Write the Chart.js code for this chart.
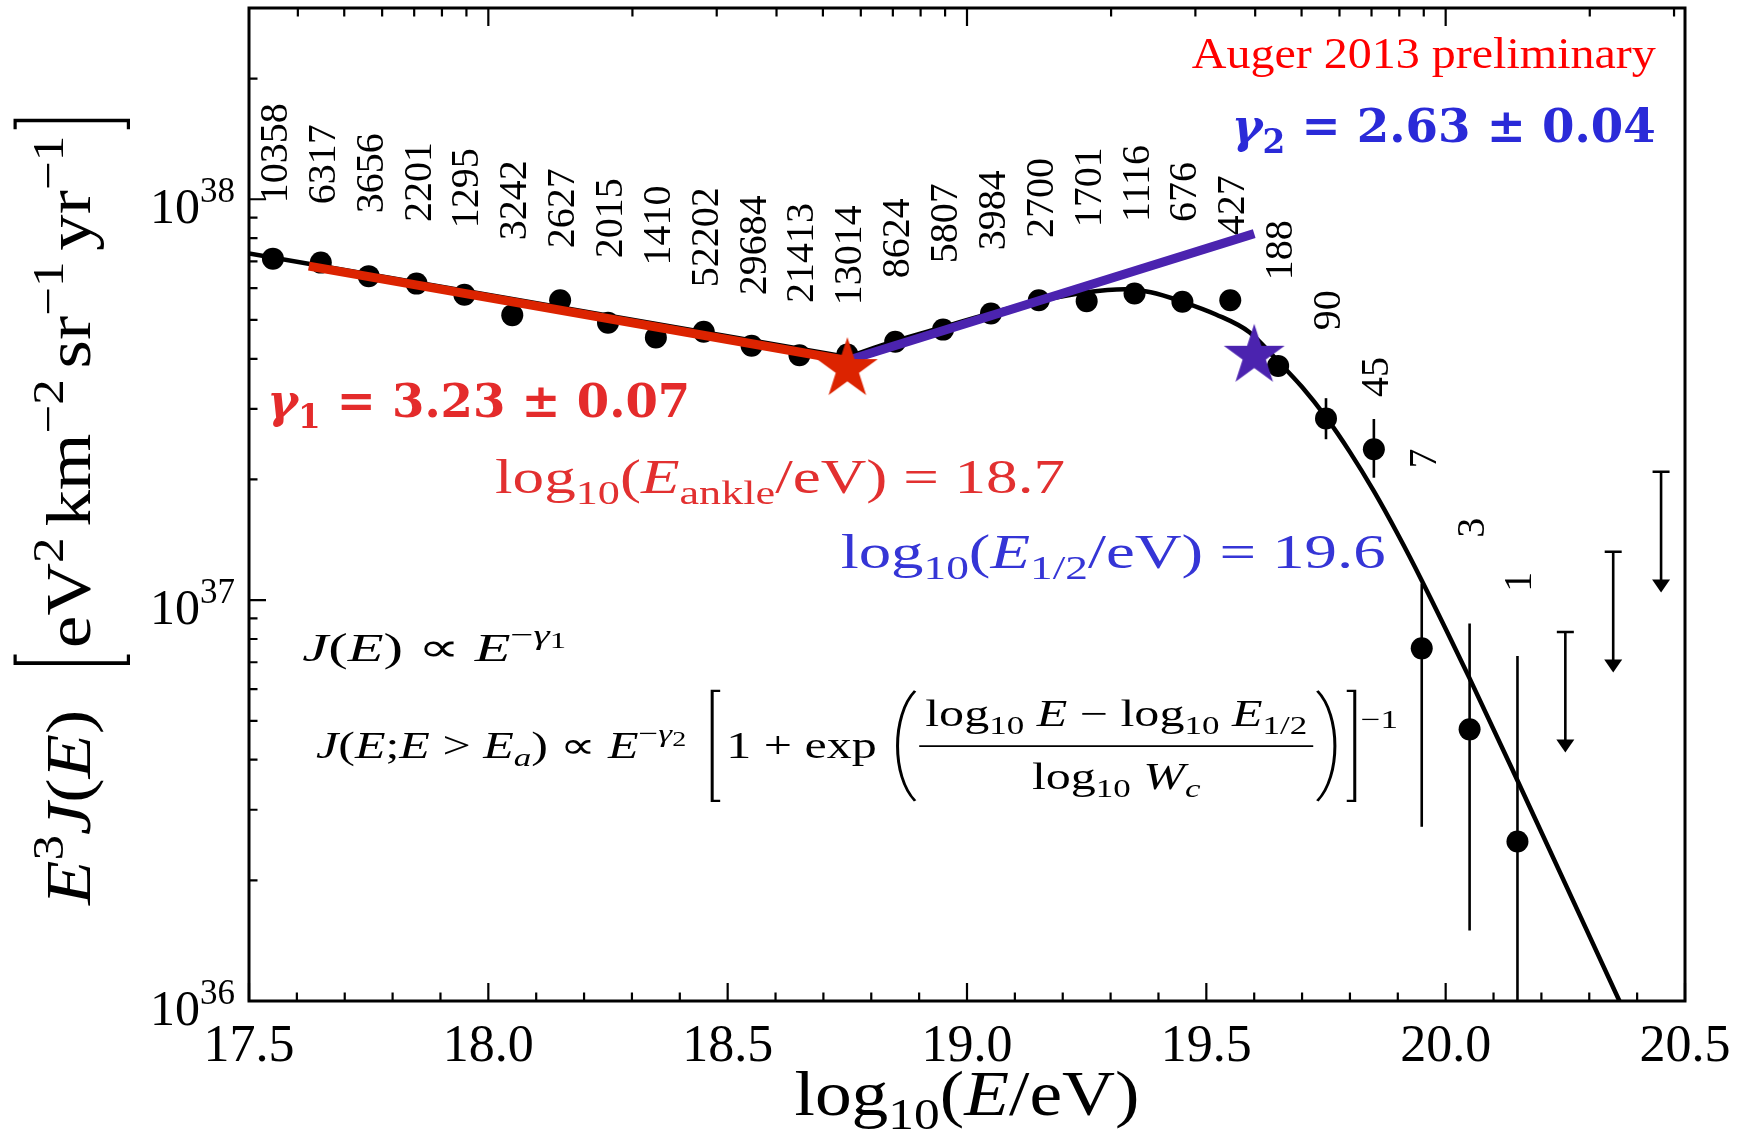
<!DOCTYPE html>
<html><head><meta charset="utf-8">
<script src="https://cdn.jsdelivr.net/npm/chart.js@4.4.1/dist/chart.umd.min.js"></script>
<style>html,body{margin:0;padding:0;background:#fff;}canvas{display:block;}</style>
</head><body>
<canvas id="c" width="1744" height="1147"></canvas>
<script>
// ---------------- data ----------------
const binCenters = [17.55,17.65,17.75,17.85,17.95,18.05,18.15,18.25,18.35,18.45,18.55,18.65,18.75,
                    18.85,18.95,19.05,19.15,19.25,19.35,19.45,19.55,19.65,19.75,19.85,19.95,20.05,20.15];
const fluxE3J = [7.11e37,6.95e37,6.43e37,6.16e37,5.78e37,5.14e37,5.60e37,4.92e37,4.52e37,4.67e37,4.31e37,4.08e37,4.10e37,
                 4.41e37,4.73e37,5.19e37,5.60e37,5.57e37,5.82e37,5.55e37,5.60e37,3.84e37,2.84e37,2.38e37,7.58e36,4.76e36,2.50e36];
const errLow  = [null,null,null,null,null,null,null,null,null,null,null,null,null,
                 null,null,null,null,null,null,null,null,null,2.52e37,2.02e37,2.72e36,1.50e36,5.0e35];
const errHigh = [null,null,null,null,null,null,null,null,null,null,null,null,null,
                 null,null,null,null,null,null,null,null,null,3.19e37,2.83e37,1.10e37,8.74e36,7.26e36];
const eventCounts = ['10358','6317','3656','2201','1295','3242','2627','2015','1410','52202','29684','21413','13014',
                     '8624','5807','3984','2700','1701','1116','676','427','188','90','45','7','3','1'];
const countLabelAt = [9.77e37,9.72e37,9.23e37,8.77e37,8.47e37,7.90e37,7.55e37,7.13e37,6.84e37,6.03e37,5.76e37,5.51e37,5.44e37,
                      6.35e37,6.92e37,7.46e37,8.00e37,8.51e37,8.77e37,8.77e37,8.13e37,6.28e37,4.71e37,3.21e37,2.13e37,1.43e37,1.05e37];
const upperLimitX = [20.25,20.35,20.45];
const upperLimitY = [8.33e36,1.32e37,2.09e37];

const fitLowX  = [17.5, 18.75];
const fitLowY  = [7.32e37, 4.04e37];
const fitHighX = [18.75,18.85,18.95,19.05,19.15,19.25,19.33,19.384,19.45,19.52,19.59,19.65,19.70,19.75,19.80,19.85,19.90,19.95,20.05,20.15,20.363];
const fitHighY = [4.04e37,4.43e37,4.80e37,5.20e37,5.57e37,5.86e37,5.96e37,5.86e37,5.55e37,5.16e37,4.66e37,3.94e37,3.40e37,2.86e37,2.34e37,1.87e37,1.46e37,1.12e37,6.38e36,3.55e36,1.0e36];

const gamma1LineX = [17.625, 18.75];
const gamma1LineY = [6.81e37, 3.96e37];
const gamma2LineX = [18.75, 19.6];
const gamma2LineY = [3.96e37, 8.21e37];
const ankleX = [18.75];  const ankleY = [3.77e37];
const halfX  = [19.6];   const halfY  = [4.07e37];

const xTickValues = [17.5,18.0,18.5,19.0,19.5,20.0,20.5];
const xTickLabels = ['17.5','18.0','18.5','19.0','19.5','20.0','20.5'];
const yTickValues = [1e36,1e37,1e38];
const yTickExps   = ['36','37','38'];

// ---------------- helpers ----------------
const FONT  = "'Liberation Serif','Times New Roman',serif";
const BFONT = "'DejaVu Serif',serif";
const RED = '#dc2300', PURPLE = '#4b23af';
const pts = (xs, ys) => xs.map((v, i) => ({x: v, y: ys[i]}));
const S = (t, o) => Object.assign({t}, o || {});

function makeStar(color, R) {
  const s = Math.ceil(2 * R + 4), c = document.createElement('canvas');
  c.width = c.height = s;
  const g = c.getContext('2d');
  g.fillStyle = color; g.beginPath();
  for (let k = 0; k < 10; k++) {
    const r = k % 2 ? R * 0.382 : R, a = -Math.PI / 2 + k * Math.PI / 5;
    g.lineTo(s / 2 + r * Math.cos(a), s / 2 + r * Math.sin(a));
  }
  g.closePath(); g.fill();
  return c;
}

function layoutRich(ctx, segs, size, fam, bold) {
  let x = 0; const items = [];
  for (const s of segs) {
    if (s.gap != null) { x += s.gap * size; continue; }
    if (s.br || s.paren) {
      const w = (s.w || 0.35) * size;
      items.push({kind: s.br ? 'br' : 'paren', ch: s.br || s.paren, x, w, up: s.up * size, dn: s.dn * size, lw: (s.lw || 0.05) * size});
      x += w; continue;
    }
    if (s.frac) {
      const N = layoutRich(ctx, s.frac.num, size, fam, bold), D = layoutRich(ctx, s.frac.den, size, fam, bold);
      const pad = 0.12 * size, w = Math.max(N.width, D.width) + 2 * pad;
      items.push({kind: 'frac', x, w, N, D, nb: s.nb * size, db: s.db * size, bar: s.bar * size, lw: 0.045 * size});
      x += w; continue;
    }
    const sz = size * (s.s ? 0.7 : 1) * (s.k || 1);
    let dy = s.s === 'sup' ? -0.42 * size : s.s === 'sub' ? 0.22 * size : 0;
    if (s.dy) dy += s.dy * size;
    const b = s.b != null ? s.b : bold;
    const font = (s.i ? 'italic ' : '') + (b ? 'bold ' : '') + sz.toFixed(2) + 'px ' + (s.f || fam);
    ctx.font = font;
    const w = ctx.measureText(s.t).width;
    items.push({kind: 't', x, dy, font, t: s.t, c: s.c});
    x += w;
  }
  return {items, width: x};
}

function paintRich(ctx, L, ox, oy, color) {
  for (const it of L.items) {
    if (it.kind === 't') {
      ctx.font = it.font; ctx.fillStyle = it.c || color; ctx.fillText(it.t, ox + it.x, oy + it.dy);
    } else if (it.kind === 'br') {
      const left = it.ch === '[';
      const xl = ox + it.x + (left ? it.w * 0.3 : it.w * 0.7);
      const s = it.w * 0.4 * (left ? 1 : -1);
      ctx.strokeStyle = color; ctx.lineWidth = it.lw; ctx.lineJoin = 'miter';
      ctx.beginPath(); ctx.moveTo(xl + s, oy - it.up); ctx.lineTo(xl, oy - it.up);
      ctx.lineTo(xl, oy + it.dn); ctx.lineTo(xl + s, oy + it.dn); ctx.stroke();
    } else if (it.kind === 'paren') {
      const left = it.ch === '(';
      const x0 = ox + it.x;
      const xa = left ? x0 + it.w * 0.85 : x0 + it.w * 0.15;
      const xb = left ? x0 + it.w * 0.0 : x0 + it.w * 1.0;
      const top = oy - it.up, bot = oy + it.dn, h = bot - top;
      ctx.strokeStyle = color; ctx.lineWidth = it.lw;
      ctx.beginPath(); ctx.moveTo(xa, top);
      ctx.bezierCurveTo(xb, top + h * 0.22, xb, bot - h * 0.22, xa, bot); ctx.stroke();
    } else if (it.kind === 'frac') {
      const cx = ox + it.x + it.w / 2;
      paintRich(ctx, it.N, cx - it.N.width / 2, oy + it.nb, color);
      paintRich(ctx, it.D, cx - it.D.width / 2, oy + it.db, color);
      ctx.strokeStyle = color; ctx.lineWidth = it.lw;
      ctx.beginPath(); ctx.moveTo(ox + it.x, oy + it.bar); ctx.lineTo(ox + it.x + it.w, oy + it.bar); ctx.stroke();
    }
  }
}

function drawRich(ctx, segs, o) {
  const L = layoutRich(ctx, segs, o.size, o.fam || FONT, !!o.bold);
  const sx = o.width ? o.width / L.width : 1;
  ctx.save();
  ctx.translate(o.x, o.y);
  if (o.rot) ctx.rotate(o.rot);
  ctx.scale(sx, 1);
  ctx.textAlign = 'left'; ctx.textBaseline = 'alphabetic';
  const ox = o.align === 'center' ? -L.width / 2 : o.align === 'right' ? -L.width : 0;
  paintRich(ctx, L, ox, 0, o.color || '#000');
  ctx.restore();
}

// ---------------- decorations plugin (everything placed through the chart scales) ----------------
const decor = {
  id: 'decor',
  beforeDatasetsDraw(chart) {
    const {ctx, chartArea: a, scales: {x, y}} = chart;
    ctx.save();
    ctx.beginPath(); ctx.rect(a.left, a.top, a.right - a.left, a.bottom - a.top); ctx.clip();
    ctx.strokeStyle = '#000'; ctx.fillStyle = '#000'; ctx.lineWidth = 2.6;
    binCenters.forEach((v, i) => {
      if (errLow[i] == null) return;
      const X = x.getPixelForValue(v);
      ctx.beginPath(); ctx.moveTo(X, y.getPixelForValue(errLow[i])); ctx.lineTo(X, y.getPixelForValue(errHigh[i])); ctx.stroke();
    });
    upperLimitX.forEach((v, i) => {
      const X = x.getPixelForValue(v);
      const Y0 = y.getPixelForValue(upperLimitY[i]);
      const Y1 = y.getPixelForValue(upperLimitY[i] / 2);
      ctx.beginPath(); ctx.moveTo(X - 8.5, Y0); ctx.lineTo(X + 8.5, Y0);
      ctx.moveTo(X, Y0); ctx.lineTo(X, Y1 - 10); ctx.stroke();
      ctx.beginPath(); ctx.moveTo(X - 9, Y1 - 13); ctx.lineTo(X + 9, Y1 - 13); ctx.lineTo(X, Y1); ctx.closePath(); ctx.fill();
    });
    ctx.restore();
    ctx.save();
    ctx.fillStyle = '#000'; ctx.font = '40px ' + FONT; ctx.textAlign = 'left'; ctx.textBaseline = 'alphabetic';
    eventCounts.forEach((t, i) => {
      ctx.save();
      ctx.translate(x.getPixelForValue(binCenters[i]) + 14, y.getPixelForValue(countLabelAt[i]));
      ctx.rotate(-Math.PI / 2);
      ctx.fillText(t, 0, 0);
      ctx.restore();
    });
    ctx.restore();
  },
  afterDatasetsDraw(chart) {
    const {ctx, chartArea: a, scales: {x, y}} = chart;
    ctx.save();
    ctx.strokeStyle = '#000'; ctx.lineWidth = 3;
    ctx.strokeRect(a.left, a.top, a.right - a.left, a.bottom - a.top);
    ctx.lineWidth = 2.2;
    ctx.beginPath();
    for (let k = 0; k <= 30; k++) {
      const v = 17.5 + k * 0.1, X = x.getPixelForValue(v), major = k % 5 === 0;
      ctx.moveTo(X, a.bottom); ctx.lineTo(X, a.bottom - (major ? 18 : 8.5));
    }
    for (let d = 17; d <= 20; d++) for (let n = 1; n <= 9; n++) {
      const v = d + Math.log10(n);
      if (v <= x.min + 1e-6 || v >= x.max - 1e-6) continue;
      const X = x.getPixelForValue(v);
      ctx.moveTo(X, a.top); ctx.lineTo(X, a.top + (n === 1 ? 18 : 8.5));
    }
    for (let d = 36; d <= 38; d++) for (let n = 1; n <= 9; n++) {
      const v = n * Math.pow(10, d);
      if (v < y.min * 0.999 || v > y.max * 0.999) continue;
      const Y = y.getPixelForValue(v);
      ctx.moveTo(a.left, Y); ctx.lineTo(a.left + (n === 1 ? 17 : 8.5), Y);
    }
    ctx.stroke();
    ctx.restore();
  },
  afterDraw(chart) {
    const {ctx, chartArea: a, scales: {x, y}} = chart;
    xTickValues.forEach((v, i) => drawRich(ctx, [S(xTickLabels[i])], {x: x.getPixelForValue(v), y: a.bottom + 60, size: 52, align: 'center'}));
    yTickValues.forEach((v, i) => drawRich(ctx, [S('10'), S(yTickExps[i], {s: 'sup'})], {x: a.left - 14, y: y.getPixelForValue(v) + 24, size: 50, align: 'right'}));
    drawRich(ctx, [S('log'), S('10', {s: 'sub'}), S('('), S('E', {i: 1}), S('/eV)')],
      {x: (a.left + a.right) / 2, y: a.bottom + 114, size: 64, align: 'center', width: 345});
    drawRich(ctx, [S('E', {i: 1}), S('3', {s: 'sup'}), S('J', {i: 1}), S('('), S('E', {i: 1}), S(')'), {gap: 0.55},
                   {br: '[', up: 1.17, dn: 0.6, w: 0.3}, S('eV'), S('2', {s: 'sup'}), {gap: 0.15}, S('km'), S('−2', {s: 'sup'}), {gap: 0.15},
                   S('sr'), S('−1', {s: 'sup'}), {gap: 0.15}, S('yr'), S('−1', {s: 'sup'}), {br: ']', up: 1.17, dn: 0.6, w: 0.3}],
      {x: 90, y: (a.top + a.bottom) / 2 + 5, size: 64, align: 'center', rot: -Math.PI / 2, width: 791});
    const at = (vx, vy) => [x.getPixelForValue(vx), y.getPixelForValue(vy)];
    let p;
    p = at(20.439, 2.12e38);
    drawRich(ctx, [S('Auger 2013 preliminary')], {x: p[0], y: p[1], size: 45, color: '#ff0000', align: 'right', width: 464});
    p = at(19.553, 1.387e38);
    drawRich(ctx, [S('γ', {i: 1}), S('2', {s: 'sub'}), S(' = 2.63 ± 0.04')], {x: p[0], y: p[1], size: 47, fam: BFONT, bold: true, color: '#2a2ad8', width: 424});
    p = at(17.538, 2.86e37);
    drawRich(ctx, [S('γ', {i: 1}), S('1', {s: 'sub'}), S(' = 3.23 ± 0.07')], {x: p[0], y: p[1], size: 47, fam: BFONT, bold: true, color: '#e42b2b', width: 423});
    p = at(18.014, 1.848e37);
    drawRich(ctx, [S('log'), S('10', {s: 'sub'}), S('('), S('E', {i: 1}), S('ankle', {s: 'sub'}), S('/eV) = 18.7')],
      {x: p[0], y: p[1], size: 48, color: '#e23030', width: 570});
    p = at(18.736, 1.202e37);
    drawRich(ctx, [S('log'), S('10', {s: 'sub'}), S('('), S('E', {i: 1}), S('1/2', {s: 'sub'}), S('/eV) = 19.6')],
      {x: p[0], y: p[1], size: 48, color: '#3535d6', width: 545});
    p = at(17.611, 7.05e36);
    drawRich(ctx, [S('J', {i: 1}), S('('), S('E', {i: 1}), S(') ∝ '), S('E', {i: 1}), S('−', {s: 'sup'}), S('γ', {i: 1, s: 'sup'}), S('1', {s: 'sup', k: 0.8, dy: 0.1})],
      {x: p[0], y: p[1], size: 40, width: 264});
    p = at(17.640, 4.04e36);
    drawRich(ctx, [S('J', {i: 1}), S('('), S('E', {i: 1}), S(';'), S('E', {i: 1}), S(' > '), S('E', {i: 1}), S('a', {i: 1, s: 'sub'}), S(') ∝ '),
                   S('E', {i: 1}), S('−', {s: 'sup'}), S('γ', {i: 1, s: 'sup'}), S('2', {s: 'sup', k: 0.8, dy: 0.1}), {gap: 0.4},
                   {br: '[', up: 1.81, dn: 1.16, w: 0.4, lw: 0.06}, S('1 + exp'), {gap: 0.3},
                   {paren: '(', up: 1.81, dn: 1.16, w: 0.55, lw: 0.06},
                   {frac: {num: [S('log'), S('10', {s: 'sub'}), S(' '), S('E', {i: 1}), S(' − log'), S('10', {s: 'sub'}), S(' '), S('E', {i: 1}), S('1/2', {s: 'sub'})],
                           den: [S('log'), S('10', {s: 'sub'}), S(' '), S('W', {i: 1}), S('c', {i: 1, s: 'sub'})]},
                    nb: -0.86, db: 0.84, bar: -0.32},
                   {paren: ')', up: 1.81, dn: 1.16, w: 0.55, lw: 0.06},
                   {br: ']', up: 1.81, dn: 1.16, w: 0.4, lw: 0.06}, S('−1', {s: 'sup', dy: -0.4})],
      {x: p[0], y: p[1], size: 37, width: 1082});
  }
};

// ---------------- chart ----------------
new Chart(document.getElementById('c'), {
  type: 'scatter',
  data: {
    datasets: [
      {label: 'E1/2', data: pts(halfX, halfY), pointStyle: makeStar(PURPLE, 32), pointRadius: 30, order: 0},
      {label: 'ankle', data: pts(ankleX, ankleY), pointStyle: makeStar(RED, 32), pointRadius: 30, order: 0},
      {label: 'gamma2', type: 'line', showLine: true, data: pts(gamma2LineX, gamma2LineY), borderColor: PURPLE, borderWidth: 9, pointRadius: 0, borderCapStyle: 'butt', order: 1},
      {label: 'gamma1', type: 'line', showLine: true, data: pts(gamma1LineX, gamma1LineY), borderColor: RED, borderWidth: 9, pointRadius: 0, borderCapStyle: 'butt', order: 1},
      {label: 'flux', data: pts(binCenters, fluxE3J), pointRadius: 11, backgroundColor: '#000', borderWidth: 0, pointStyle: 'circle', order: 2},
      {label: 'fit high', type: 'line', showLine: true, data: pts(fitHighX, fitHighY), borderColor: '#000', borderWidth: 4.5, pointRadius: 0, cubicInterpolationMode: 'monotone', order: 3},
      {label: 'fit low', type: 'line', showLine: true, data: pts(fitLowX, fitLowY), borderColor: '#000', borderWidth: 4.5, pointRadius: 0, order: 3}
    ]
  },
  options: {
    responsive: false,
    animation: false,
    devicePixelRatio: 1,
    layout: {autoPadding: false, padding: {left: 249, right: 59, top: 8, bottom: 146}},
    plugins: {legend: {display: false}, tooltip: {enabled: false}, title: {display: false}},
    scales: {
      x: {type: 'linear', min: 17.5, max: 20.5, display: false},
      y: {type: 'logarithmic', min: 1e36, max: 3e38, display: false}
    }
  },
  plugins: [decor]
});
</script>
</body></html>
